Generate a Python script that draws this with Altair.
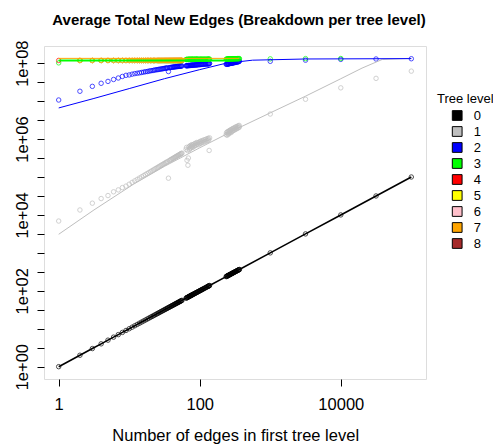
import altair as alt
import pandas as pd

levels = ["0", "1", "2", "3", "4", "5", "6", "7", "8"]
colors = ["#000000", "#BEBEBE", "#0000FF", "#00FF00", "#FF0000",
          "#FFFF00", "#FFC0CB", "#FFA500", "#A52A2A"]

# ---- x values (number of edges in first tree level) ----
x_small = list(range(1, 57))
x_a = [64, 65, 66, 67, 68, 69, 70, 71, 72, 73, 74, 75, 76, 77, 78, 79, 80,
       82, 83, 85, 86, 88, 89, 91, 92, 94, 96, 98, 100, 102, 104, 106, 108, 110,
       113, 115, 118, 121, 124, 127, 130, 132, 134, 136, 138]
x_b = [237, 240, 244, 247, 251, 254, 256, 259, 262, 266, 270, 274, 278, 282, 286, 290,
       294, 298, 302, 307, 312, 317, 322, 327, 333, 338, 344, 350, 356, 362, 365]
x_s = [1000, 3162, 10000, 31623, 100000]

# ---- level 1 (grey) ----
gray_small = [6900, 13500, 20400, 27000, 32400, 40700, 45700, 52500, 57500, 64600,
              72100, 79300, 86500, 93800, 101100, 108500, 115900, 123400, 130900, 138400,
              145900, 153500, 161100, 168800, 176500, 184200, 191900, 199700, 207500, 215300,
              223100, 231000, 238900, 246700, 254700, 93000, 270500, 278500, 286500, 294500,
              302600, 310600, 318700, 326800, 334900, 343000, 351200, 359300, 367500, 375600,
              383800, 392100, 400300, 408600, 416800, 425100]
gray_a = [537e3, 603e3, 275e3, 501e3, 204e3, 316e3, 617e3, 525e3, 646e3, 562e3,
          676e3, 589e3, 631e3, 708e3, 617e3, 692e3, 603e3, 724e3, 646e3, 759e3,
          676e3, 776e3, 692e3, 813e3, 724e3, 794e3, 708e3, 832e3, 759e3, 871e3,
          776e3, 891e3, 813e3, 912e3, 832e3, 955e3, 851e3, 977e3, 891e3, 1023e3,
          912e3, 1047e3, 955e3, 501e3, 1072e3]
gray_b = [1.318e6, 1.479e6, 1.259e6, 1.549e6, 1.380e6, 1.585e6, 1.349e6, 1.622e6,
          1.445e6, 1.698e6, 1.514e6, 1.738e6, 1.479e6, 1.778e6, 1.585e6, 1.862e6,
          1.660e6, 1.905e6, 1.698e6, 1.950e6, 1.738e6, 2.042e6, 1.820e6, 2.089e6,
          1.862e6, 2.138e6, 1.950e6, 2.239e6, 1.995e6, 2.291e6, 2.089e6]
gray_s = [4.57e6, 1.12e7, 2.24e7, 3.98e7, 6.17e7]

# ---- level 2 (blue), millions ----
blue_small = [10.7, 18.2, 24.5, 29.5, 33.1, 37.2, 40.7, 44.7, 47.9, 49.0,
              51.3, 53.1, 54.3, 55.6, 56.9, 58.2, 59.6, 60.3, 61.7, 63.1,
              63.8, 64.6, 66.1, 66.8, 67.6, 68.4, 69.2, 70.0, 70.8, 71.6,
              72.4, 73.3, 74.1, 74.6, 75.2, 60.3, 76.2, 76.7, 77.3, 77.8,
              78.3, 78.9, 79.4, 80.0, 80.4, 80.9, 81.3, 81.7, 82.0, 82.4,
              82.8, 83.2, 83.6, 83.9, 84.3, 84.7]
blue_a = [85.2, 85.9, 85.5, 86.4, 86.0, 86.8, 86.5, 87.2, 86.9, 87.6,
          87.3, 88.0, 87.7, 88.5, 88.1, 88.9, 88.6, 89.4, 89.0, 89.9,
          89.5, 90.4, 90.0, 90.9, 90.5, 91.4, 91.0, 92.0, 91.6, 92.6,
          92.2, 93.2, 92.8, 93.8, 93.4, 94.5, 94.0, 95.2, 94.8, 96.0,
          95.6, 96.8, 96.4, 97.5, 98.2]
blue_b = [93.5, 94.6, 94.0, 95.5, 95.0, 96.4, 96.0, 97.3, 97.0, 98.3,
          98.0, 99.4, 99.0, 100.5, 100.1, 101.6, 101.2, 102.8, 102.4, 104.0,
          103.6, 105.3, 104.9, 106.7, 106.3, 108.2, 107.8, 109.8, 109.5, 111.6,
          113.5]
blue_s = [112, 120, 126, 129, 131]

# ---- level 3 (green), millions ----
green_small = [102, 117, 117, 117, 117, 117, 117, 117, 117, 117, 117,
               117, 117, 117, 117, 117, 117, 117, 117, 117, 117,
               117, 117, 117, 117, 117, 117, 117, 117, 117, 117,
               117, 117, 117, 117, 117, 117, 117, 117, 117, 117,
               117, 117, 117, 117, 117, 117, 117, 117, 117, 117,
               117, 117, 117, 117, 117]
green_a = [125, 126, 125, 127, 126, 125, 127, 126, 128, 126,
           127, 125, 127, 126, 128, 127, 126, 128, 127, 126,
           128, 127, 128, 127, 128, 128, 127, 126, 127, 128,
           127, 128, 126, 127, 128, 127, 128, 127, 128, 128,
           127, 128, 127, 128, 128]
green_b = [127, 128, 129, 128, 129, 130, 128, 129, 130, 129,
           130, 129, 130, 131, 130, 131, 129, 130, 131, 130,
           131, 130, 131, 131, 130, 131, 132, 131, 132, 131,
           132]
green_s = [130, 132, 133]

# ---- levels 4-7 (at the top, small x), millions ----
upper_small = [118, 118, 118, 118, 118, 118, 118, 118, 118, 118, 118,
               118, 118, 118, 118, 118, 118, 118, 118, 118, 118,
               118, 118, 118, 118, 118, 118, 118, 118, 118, 118,
               118, 118, 118, 118, 118, 118, 118, 118, 118, 118,
               118, 118, 118, 118, 118, 118, 118, 118, 118, 118,
               118, 118, 118, 118]
red_x1 = 118

# ---- fitted curves ----
gray_line_x = [1, 3.16, 11.5, 31.6, 100, 363, 1000, 3162, 10000, 20000, 38900, 100000]
gray_line_y = [3090, 13500, 64600, 190500, 589000, 2.0e6, 4.9e6, 1.35e7, 3.89e7,
               7.41e7, 1.26e8, 1.343e8]
blue_line_x = [1, 3.16, 10, 31.6, 100, 237, 562, 3162, 100000]
blue_line_y = [6.61e6, 1.175e7, 2.14e7, 3.9e7, 6.76e7, 1.0e8, 1.2e8, 1.29e8, 1.32e8]
green_line_x = [1, 365]
green_line_y = [1.18e8, 1.18e8]
orange_line_x = [1, 365]
orange_line_y = [1.34e8, 1.34e8]

# ---------------- build tables ----------------
rows = []


def add(level, xs, ys, scale=1.0):
    for a, b in zip(xs, ys):
        rows.append({"x": a, "y": b * scale, "level": level})


all_x = x_small + x_a + x_b + x_s
add("0", all_x, all_x)
add("1", all_x, gray_small + gray_a + gray_b + gray_s)
add("2", all_x, blue_small + blue_a + blue_b + blue_s, 1e6)
add("3", x_small + x_a + x_b + x_s[:3], green_small + green_a + green_b + green_s, 1e6)
add("4", [1] + x_small[1:], [red_x1] + upper_small, 1e6)
add("5", x_small[1:], upper_small, 1e6)
add("6", x_small[1:], upper_small, 1e6)
add("7", x_small[1:], upper_small, 1e6)
pts = pd.DataFrame(rows)
pts["lv"] = pts["level"].astype(int)
pts = pts.sort_values(["lv", "x"]).reset_index(drop=True)

lrows = []


def addl(level, xs, ys, lw):
    for a, b in zip(xs, ys):
        lrows.append({"x": a, "y": b, "level": level, "lw": lw})


addl("0", all_x, all_x, 1.6)
addl("1", gray_line_x, gray_line_y, 1.0)
addl("2", blue_line_x, blue_line_y, 1.0)
addl("7", orange_line_x, orange_line_y, 1.0)
addl("3", green_line_x, green_line_y, 2.0)
lines = pd.DataFrame(lrows)

FONT = "Liberation Sans"
XDOM = [10 ** -0.2083, 10 ** 5.2083]
YDOM = [10 ** -0.325, 10 ** 8.453]

xenc = alt.X("x:Q",
             scale=alt.Scale(type="log", domain=XDOM, nice=False),
             axis=alt.Axis(values=[1, 100, 10000],
                           labelExpr="format(datum.value, 'd')",
                           title="Number of edges in first tree level",
                           titleFont=FONT, titleFontSize=16.5, titleFontWeight="normal",
                           titleColor="black", titleBaseline="alphabetic",
                           titleX=191.2, titleY=61.7, titleAlign="center",
                           labelFont=FONT, labelFontSize=16.5, labelColor="black",
                           labelBaseline="alphabetic", labelPadding=23,
                           labelOverlap=False, labelFlush=False,
                           tickSize=7, tickColor="black", tickWidth=1,
                           domain=False, grid=False))
yenc = alt.Y("y:Q",
             scale=alt.Scale(type="log", domain=YDOM, nice=False),
             axis=alt.Axis(values=[10 ** (k / 2) for k in range(17)],
                           labelExpr="round(log(datum.value)/LN10*2) % 4 == 0 ? '1e+0' + round(log(datum.value)/LN10) : ''",
                           title=None,
                           labelFont=FONT, labelFontSize=16.5, labelColor="black",
                           labelAngle=270, labelAlign="center", labelBaseline="alphabetic",
                           labelPadding=10, labelOverlap=False, labelFlush=False,
                           tickSize=7, tickColor="black", tickWidth=1,
                           domain=False, grid=False))

cscale = alt.Scale(domain=levels, range=colors)

points = alt.Chart(pts).mark_point(shape="circle", filled=False, size=20, strokeWidth=1).encode(
    x=xenc, y=yenc,
    stroke=alt.Stroke("level:N", scale=cscale, legend=None),
    order=alt.Order("lv:Q"),
)

line_layer = alt.Chart(lines).mark_line().encode(
    x=xenc, y=yenc,
    stroke=alt.Stroke("level:N", scale=cscale, legend=None),
    strokeWidth=alt.StrokeWidth("lw:Q", scale=None),
    detail="level:N",
    order=alt.Order("x:Q"),
)

legend_df = pd.DataFrame({"tree_level": levels})
legend_layer = alt.Chart(legend_df).mark_square(opacity=0, size=1).encode(
    x=alt.value(5), y=alt.value(5),
    fill=alt.Fill("tree_level:N", scale=alt.Scale(domain=levels, range=colors),
                  legend=alt.Legend(title="Tree level", orient="none",
                                    legendX=393, legendY=46.5,
                                    titleFont=FONT, titleFontSize=13,
                                    titleFontWeight="normal", titleColor="black",
                                    titleBaseline="top", titlePadding=2,
                                    labelFont=FONT, labelFontSize=13, labelColor="black",
                                    labelOffset=10,
                                    symbolType="square", symbolSize=95,
                                    symbolStrokeColor="black", symbolStrokeWidth=1,
                                    symbolOpacity=1, symbolOffset=13.7,
                                    clipHeight=16, rowPadding=0, padding=0)),
)

chart = alt.layer(points, line_layer, legend_layer).resolve_scale(
    fill="independent", stroke="independent"
).properties(
    width=382, height=333,
    padding={"left": 44, "top": 46, "right": 67, "bottom": 68},
    autosize=alt.AutoSizeParams(type="none"),
    title=alt.TitleParams("Average Total New Edges (Breakdown per tree level)",
                          font=FONT, fontSize=15, fontWeight="bold", color="black",
                          anchor="middle", baseline="alphabetic", offset=0.5, dx=4),
).configure_view(stroke="black", strokeWidth=1).configure(background="white")

chart.save("out.html", embed_options={"renderer": "svg", "actions": False})
